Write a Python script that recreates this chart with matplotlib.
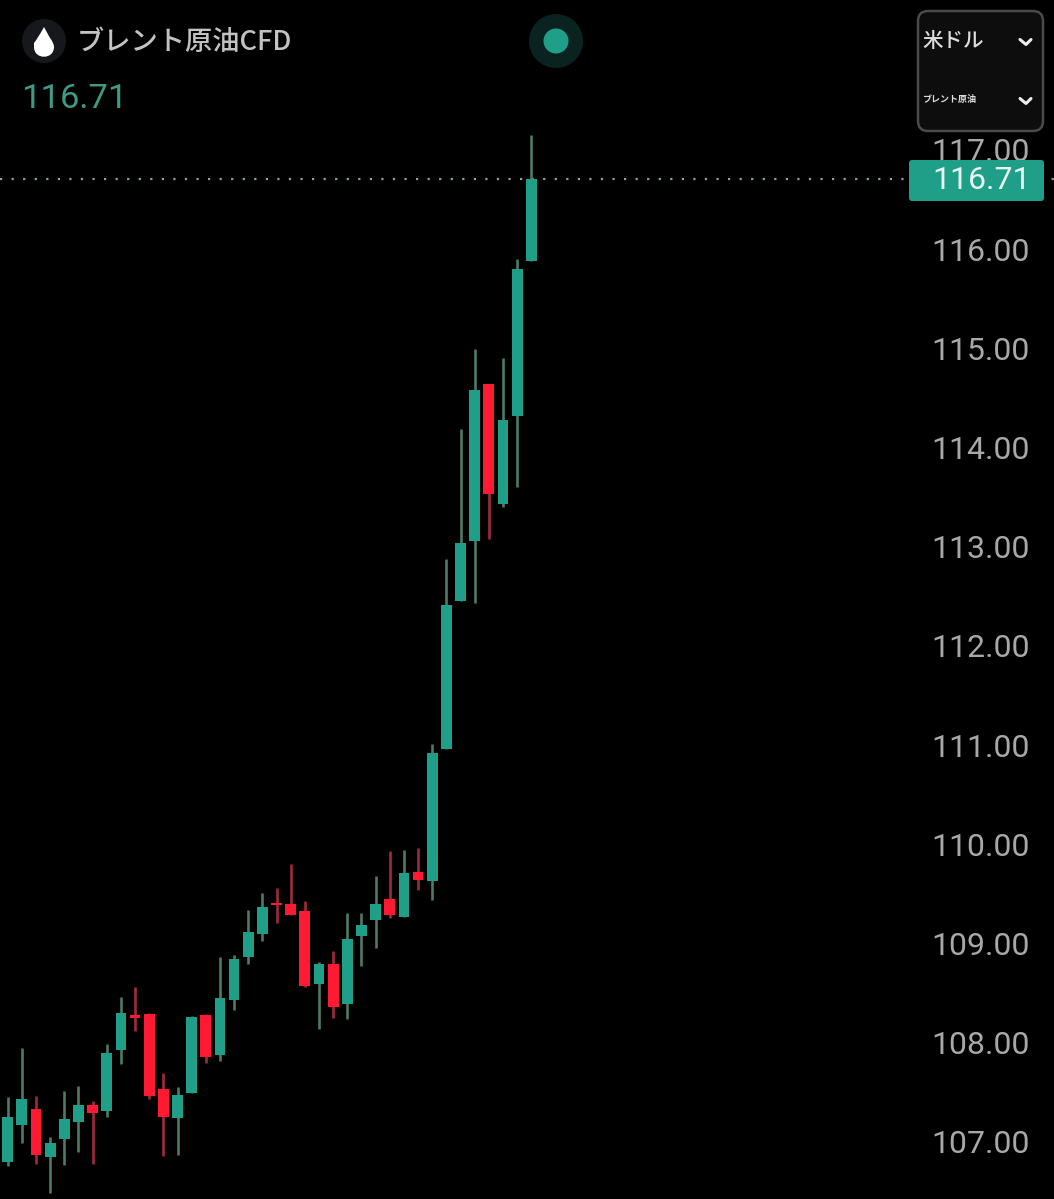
import matplotlib.pyplot as plt
from matplotlib.patches import Circle, FancyBboxPatch, PathPatch
from matplotlib.path import Path
import numpy as np

plt.rcParams['font.family'] = ['Noto Sans CJK JP', 'DejaVu Sans']

# candle data
opens = [106.80, 107.17, 107.33, 106.85, 107.03, 107.20, 107.37, 107.31, 107.93, 108.28,
         108.29, 107.53, 107.24, 107.49, 108.28, 107.88, 108.43, 108.86, 109.10, 109.41,
         109.40, 109.33, 108.59, 108.79, 108.39, 109.08, 109.24, 109.45, 109.27, 109.72,
         109.63, 110.96, 112.45, 113.06, 114.64, 113.43, 114.32, 115.88]
closes = [107.25, 107.43, 106.87, 106.99, 107.23, 107.37, 107.29, 107.90, 108.30, 108.25,
          107.46, 107.25, 107.47, 108.26, 107.86, 108.45, 108.84, 109.12, 109.37, 109.39,
          109.29, 108.57, 108.79, 108.36, 109.05, 109.19, 109.40, 109.29, 109.71, 109.64,
          110.92, 112.41, 113.04, 114.58, 113.53, 114.28, 115.80, 116.71]
highs = [107.45, 107.95, 107.46, 107.05, 107.51, 107.56, 107.41, 107.99, 108.46, 108.56,
         108.30, 107.70, 107.55, 108.27, 108.29, 108.86, 108.88, 109.34, 109.51, 109.56,
         109.80, 109.43, 108.81, 108.93, 109.31, 109.31, 109.68, 109.93, 109.94, 109.96,
         111.01, 112.88, 114.19, 114.99, 114.64, 114.90, 115.90, 117.15]
lows = [106.76, 106.99, 106.78, 106.49, 106.77, 106.90, 106.78, 107.25, 107.79, 108.12,
        107.43, 106.86, 106.87, 107.49, 107.80, 107.82, 108.33, 108.79, 109.03, 109.21,
        109.29, 108.56, 108.14, 108.25, 108.24, 108.77, 108.96, 109.26, 109.27, 109.54,
        109.44, 110.96, 112.45, 112.43, 113.08, 113.40, 113.60, 115.88]
price_ticks = [107, 108, 109, 110, 111, 112, 113, 114, 115, 116, 117]
last_price = 116.71

GREEN = '#1f9f87'
RED = '#fe1a33'
GREEN_WICK = '#4f7a66'
RED_WICK = '#a02a3c'

fig = plt.figure(figsize=(10.54, 11.99), dpi=100, facecolor='black')
ax = fig.add_axes([0, 0, 1, 1], facecolor='black')

idx = np.arange(len(opens))
opens = np.array(opens)
closes = np.array(closes)
up = closes >= opens

# wicks then bodies
ax.vlines(idx, lows, highs, colors=[GREEN_WICK if u else RED_WICK for u in up], linewidth=1.9, zorder=2)
bottoms = np.minimum(opens, closes)
heights = np.abs(closes - opens)
ax.bar(idx, heights, bottom=bottoms, width=0.76, color=[GREEN if u else RED for u in up], linewidth=0, zorder=3)

ax.axhline(last_price, color='#8fa39b', linewidth=1.6, linestyle=(0, (1, 4.2)), zorder=1)

ax.set_xlim(-0.544, 73.94)
ax.set_ylim(106.425, 118.512)
ax.set_xticks([])
ax.yaxis.tick_right()
ax.set_yticks(price_ticks)
ax.set_yticklabels([f'{p:.2f}' for p in price_ticks], family='Roboto', fontsize=23, color='#a8a8a8', ha='left')
ax.tick_params(axis='y', length=0, pad=-88.5)
for s in ax.spines.values():
    s.set_visible(False)

# app header and widgets, in pixel coordinates
ui = fig.add_axes([0, 0, 1, 1], facecolor='none')
ui.set_xlim(0, 1054)
ui.set_ylim(1199, 0)
ui.axis('off')

ui.add_patch(Circle((44, 41), 22, color='#16181c', lw=0))
drop = Path([(44, 27), (38, 38), (34, 43), (34, 47), (34, 60), (54, 60), (54, 47), (54, 43), (50, 38), (44, 27)],
            [Path.MOVETO, Path.CURVE3, Path.CURVE3, Path.LINETO, Path.CURVE4, Path.CURVE4, Path.CURVE4,
             Path.CURVE3, Path.CURVE3, Path.CLOSEPOLY])
ui.add_patch(PathPatch(drop, color='white', lw=0))
ui.text(77, 42.5, 'ブレント原油CFD', fontsize=19.6, weight='medium', color='#c2c2c2', va='center', ha='left')
ui.text(21, 99, '116.71', family='Roboto', fontsize=24.8, color='#3f9a85', va='center', ha='left')

ui.add_patch(Circle((556, 41), 27, color='#0a2320', lw=0))
ui.add_patch(Circle((556, 41), 12.5, color=GREEN, lw=0))

# dropdown box
ui.add_patch(FancyBboxPatch((924, 17), 113, 108, boxstyle='round,pad=6,rounding_size=10',
                            facecolor='#0d0d0d', edgecolor='#4a4a4a', linewidth=1.8))
ui.text(922, 41, '米ドル', fontsize=14.8, weight='medium', color='#dddddd', va='center', ha='left')
ui.text(922, 99.5, 'ブレント原油', fontsize=6.5, weight='bold', color='#dddddd', va='center', ha='left')
for y in (42, 101):
    ui.plot([1020, 1026, 1031], [y - 2.5, y + 2.5, y - 2.5], color='#eeeeee', linewidth=2.2, solid_capstyle='round')

# last price badge
ui.add_patch(FancyBboxPatch((911, 162), 131, 37, boxstyle='round,pad=2,rounding_size=3', facecolor=GREEN, edgecolor='none'))
ui.text(932, 180.5, '116.71', family='Roboto', fontsize=23, color='#e8f5f0', va='center', ha='left')

fig.savefig('out.png', dpi=100, facecolor='black')
